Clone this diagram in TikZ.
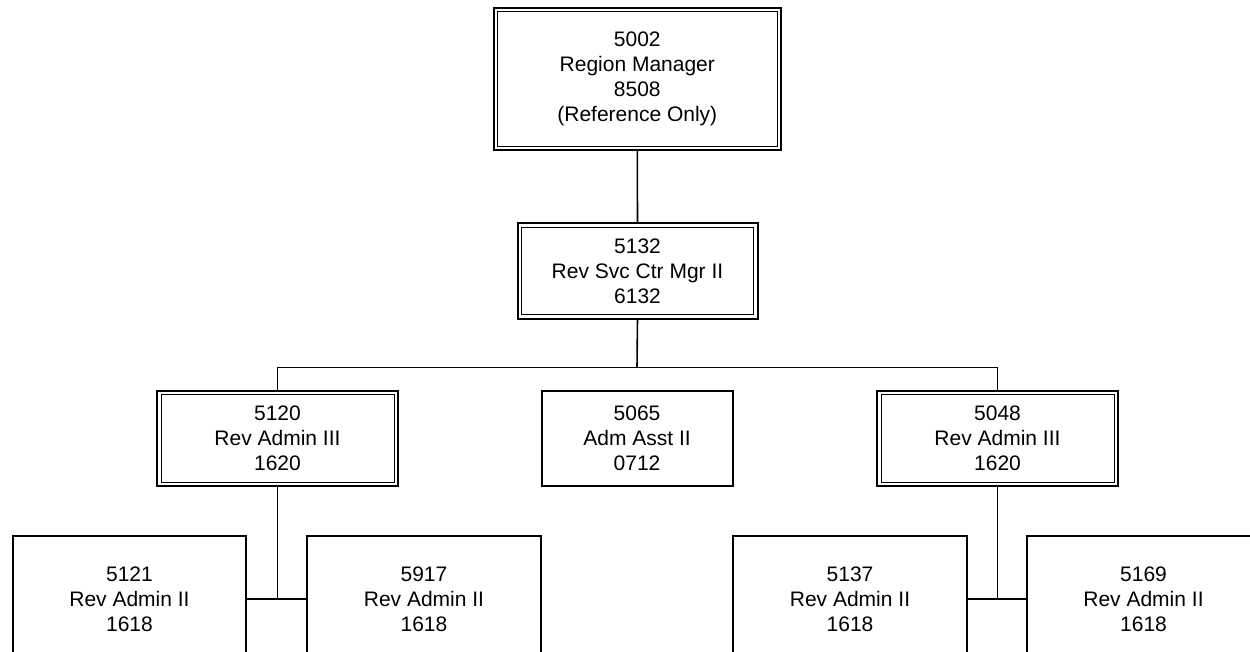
\documentclass[tikz,border=0pt]{standalone}
\usepackage{fontspec}
\setmainfont{Liberation Sans}
\begin{document}
\begin{tikzpicture}[x=1pt,y=-1pt,
  every node/.style={font=\fontsize{21}{25}\selectfont, align=center, inner sep=0pt, outer sep=0pt},
  sbox/.style={draw, line width=2pt},
  dbox/.style={draw, line width=2pt},
  innerline/.style={line width=1pt},
  link/.style={line width=1.6pt},
  lvltop/.style={minimum width=287.5pt, minimum height=142.5pt},
  lvlmid/.style={minimum width=241pt, minimum height=95.5pt},
  lvlbot/.style={minimum width=233.5pt, minimum height=127pt}]
\useasboundingbox (0,0) rectangle (1250,652);
\clip (0,0) rectangle (1250,652);

% positions
\node[dbox, lvltop] (r5002) at (637.3,78.8) {5002\\Region Manager\\8508\\(Reference Only)};
\node[dbox, minimum width=240pt, minimum height=95pt] (r5132) at (637.5,271) {5132\\Rev Svc Ctr Mgr II\\6132};
\node[dbox, lvlmid] (r5120) at (277.5,438.3) {5120\\Rev Admin III\\1620};
\node[sbox, minimum width=191pt, minimum height=95pt] (r5065) at (637,438.5) {5065\\Adm Asst II\\0712};
\node[dbox, lvlmid] (r5048) at (997.5,438.3) {5048\\Rev Admin III\\1620};
\node[sbox, lvlbot] (r5121) at (129.5,599) {5121\\Rev Admin II\\1618};
\node[sbox, lvlbot] (r5917) at (424,599) {5917\\Rev Admin II\\1618};
\node[sbox, lvlbot] (r5137) at (850,599) {5137\\Rev Admin II\\1618};
\node[sbox, lvlbot] (r5169) at (1143.5,599) {5169\\Rev Admin II\\1618};

% inner frame of the double-bordered positions
\foreach \n in {r5002,r5132,r5120,r5048}
  \draw[innerline] ([shift={(4pt,-4pt)}]\n.north west) rectangle ([shift={(-4pt,4pt)}]\n.south east);

% reporting lines
\coordinate (bus) at (637,367.3);
\draw[link] (r5002.south) -- (r5132.north);
\draw[link] (r5132.south) -- (bus);
\draw[link] (r5120.north) -- (r5120.north |- bus) -- (r5048.north |- bus) -- (r5048.north);
\draw[link] (r5121.east) -- (r5917.west);
\draw[link] (r5120.south) -- (r5120.south |- r5121.east);
\draw[link] (r5137.east) -- (r5169.west);
\draw[link] (r5048.south) -- (r5048.south |- r5137.east);
\end{tikzpicture}
\end{document}
